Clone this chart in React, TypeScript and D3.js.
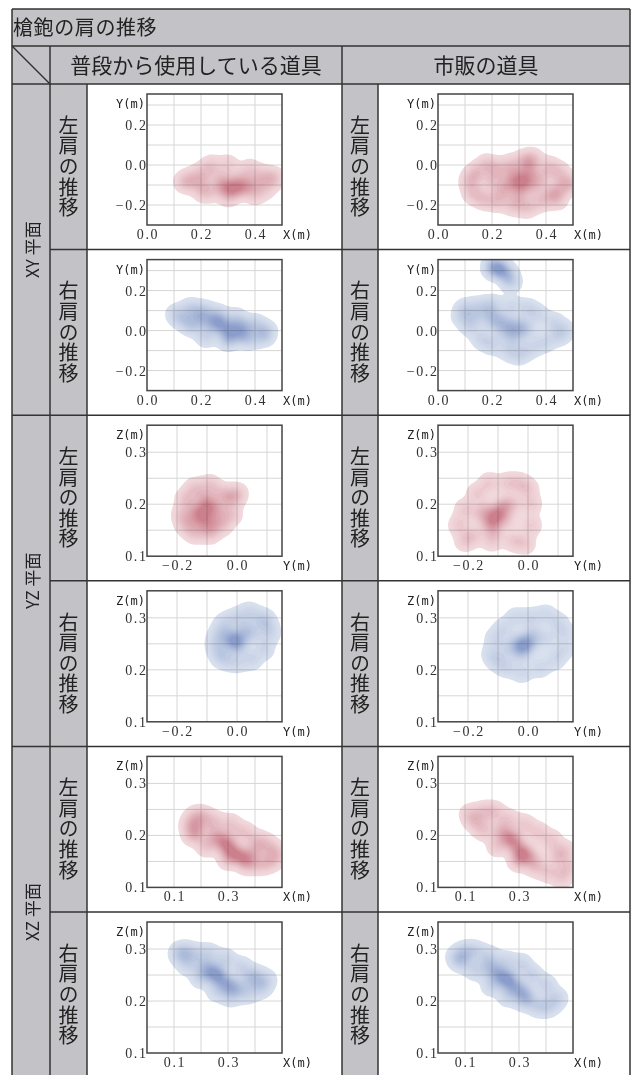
import React, { useEffect, useRef } from 'react';
import * as d3 from 'd3';

type Pt = [number, number];

const title = '槍鉋の肩の推移';
const toolHeaders = ['普段から使用している道具', '市販の道具'];
const planeLabels = ['XY 平面', 'YZ 平面', 'XZ 平面'];
const shoulderLabels = ['左肩の推移', '右肩の推移'];

// per plane: [horizontal axis name, vertical axis name]
const axisNames = [['X(m)', 'Y(m)'], ['Y(m)', 'Z(m)'], ['X(m)', 'Z(m)']];
const hDomains = [[0, 0.5], [-0.3, 0.15], [0, 0.5]];
const vDomains = [[-0.3, 0.355], [0.1, 0.352], [0.1, 0.352]];
const hGrid = [[0.1, 0.2, 0.3, 0.4], [-0.2, -0.1, 0, 0.1], [0.1, 0.2, 0.3, 0.4]];
const vGrid = [[-0.2, -0.1, 0, 0.1, 0.2, 0.3], [0.15, 0.2, 0.25, 0.3], [0.15, 0.2, 0.25, 0.3]];
const hTicks = [[0, 0.2, 0.4], [-0.2, 0], [0.1, 0.3]];
const vTicks = [[-0.2, 0, 0.2], [0.1, 0.2, 0.3], [0.1, 0.2, 0.3]];

// shoulder positions (metres)
const xyLeftUsual: Pt[] = [
  [0.30, -0.12], [0.33, -0.11], [0.35, -0.12], [0.28, -0.10], [0.32, -0.13], [0.36, -0.10], [0.31, -0.09],
  [0.26, -0.12], [0.38, -0.11], [0.20, -0.08], [0.22, -0.03], [0.18, -0.05], [0.15, -0.09], [0.14, -0.08],
  [0.24, 0.0], [0.30, 0.0], [0.38, -0.02], [0.42, -0.05], [0.46, -0.06], [0.47, -0.07], [0.44, -0.12],
  [0.40, -0.15], [0.30, -0.16], [0.22, -0.14], [0.35, -0.06], [0.27, -0.06], [0.20, -0.12], [0.41, -0.09],
];
const xyLeftMarket: Pt[] = [
  [0.31, -0.08], [0.33, -0.06], [0.30, -0.10], [0.34, -0.02], [0.32, 0.02], [0.35, 0.03], [0.28, -0.05],
  [0.26, -0.09], [0.35, -0.11], [0.38, -0.07], [0.22, -0.02], [0.18, 0.0], [0.14, -0.04], [0.12, -0.08],
  [0.13, -0.14], [0.17, -0.17], [0.22, -0.18], [0.28, -0.20], [0.33, -0.21], [0.38, -0.18], [0.42, -0.14],
  [0.46, -0.11], [0.49, -0.09], [0.45, -0.04], [0.41, -0.01], [0.44, -0.17], [0.24, -0.13], [0.20, -0.08],
  [0.30, -0.15], [0.27, 0.0],
];
const xyRightUsual: Pt[] = [
  [0.28, 0.02], [0.31, 0.01], [0.25, 0.03], [0.34, 0.0], [0.22, 0.05], [0.30, -0.02], [0.27, 0.05],
  [0.36, 0.02], [0.11, 0.08], [0.16, 0.11], [0.21, 0.10], [0.26, 0.08], [0.33, 0.06],
  [0.40, 0.03], [0.44, 0.0], [0.43, -0.03], [0.38, -0.04], [0.30, -0.05], [0.22, -0.03], [0.17, 0.02],
  [0.14, 0.05], [0.19, 0.07], [0.35, -0.03],
];
const xyRightMarket: Pt[] = [
  [0.27, 0.02], [0.25, 0.04], [0.29, 0.0], [0.22, 0.06], [0.19, 0.09], [0.31, 0.03], [0.24, -0.01],
  [0.28, -0.04], [0.33, 0.0], [0.20, 0.04], [0.10, 0.11], [0.09, 0.07], [0.12, 0.02], [0.16, -0.04],
  [0.20, -0.07], [0.26, -0.10], [0.30, -0.12], [0.34, -0.09], [0.39, -0.06], [0.44, -0.03], [0.47, 0.0],
  [0.43, 0.04], [0.37, 0.08], [0.33, 0.11], [0.27, 0.12], [0.20, 0.13], [0.15, 0.12], [0.14, 0.07],
  [0.21, 0.31], [0.23, 0.30], [0.25, 0.30], [0.20, 0.32], [0.26, 0.27], [0.27, 0.24], [0.22, 0.32],
];
const yzLeftUsual: Pt[] = [
  [-0.12, 0.18], [-0.10, 0.19], [-0.09, 0.20], [-0.13, 0.17], [-0.11, 0.21], [-0.14, 0.19], [-0.08, 0.17],
  [-0.10, 0.16], [-0.18, 0.18], [-0.17, 0.21], [-0.14, 0.23], [-0.09, 0.235], [-0.05, 0.22], [-0.02, 0.21],
  [0.0, 0.22], [-0.02, 0.18], [-0.05, 0.16], [-0.09, 0.145], [-0.14, 0.145], [-0.17, 0.16], [-0.06, 0.19],
];
const yzLeftMarket: Pt[] = [
  [-0.11, 0.175], [-0.10, 0.18], [-0.12, 0.17], [-0.09, 0.19], [-0.08, 0.20], [-0.13, 0.16], [-0.07, 0.17],
  [-0.11, 0.15], [-0.14, 0.19], [-0.13, 0.24], [-0.17, 0.22], [-0.21, 0.19], [-0.23, 0.16], [-0.21, 0.13],
  [-0.18, 0.14], [-0.12, 0.13], [-0.05, 0.13], [-0.01, 0.125], [0.01, 0.16], [0.01, 0.20], [0.0, 0.23],
  [-0.03, 0.24], [-0.07, 0.24], [-0.05, 0.20], [-0.16, 0.18],
];
const yzRightUsual: Pt[] = [
  [-0.01, 0.26], [0.0, 0.255], [-0.02, 0.25], [0.02, 0.265], [0.01, 0.245], [-0.03, 0.265], [0.03, 0.28],
  [-0.07, 0.25], [-0.06, 0.27], [-0.04, 0.29], [0.0, 0.30], [0.04, 0.31], [0.08, 0.30], [0.10, 0.29],
  [0.11, 0.27], [0.09, 0.24], [0.05, 0.22], [0.0, 0.215], [-0.04, 0.22], [-0.06, 0.23], [0.06, 0.27],
];
const yzRightMarket: Pt[] = [
  [-0.02, 0.25], [-0.01, 0.245], [-0.03, 0.24], [0.0, 0.26], [0.01, 0.25], [-0.04, 0.255], [0.02, 0.27],
  [-0.02, 0.23], [-0.12, 0.23], [-0.11, 0.26], [-0.08, 0.28], [-0.04, 0.30], [0.01, 0.30], [0.06, 0.305],
  [0.10, 0.29], [0.12, 0.27], [0.12, 0.24], [0.09, 0.22], [0.04, 0.205], [-0.02, 0.195], [-0.07, 0.205],
  [-0.10, 0.215], [0.06, 0.26], [-0.07, 0.24],
];
const xzLeftUsual: Pt[] = [
  [0.31, 0.17], [0.29, 0.18], [0.33, 0.165], [0.27, 0.19], [0.35, 0.16], [0.30, 0.19], [0.25, 0.20],
  [0.37, 0.155], [0.18, 0.235], [0.16, 0.22], [0.17, 0.20], [0.21, 0.235], [0.25, 0.225], [0.31, 0.22],
  [0.36, 0.205], [0.41, 0.19], [0.45, 0.18], [0.48, 0.165], [0.46, 0.15], [0.42, 0.145], [0.37, 0.145],
  [0.30, 0.155], [0.22, 0.18], [0.19, 0.21], [0.40, 0.17],
];
const xzLeftMarket: Pt[] = [
  [0.29, 0.18], [0.27, 0.19], [0.31, 0.17], [0.25, 0.20], [0.33, 0.165], [0.23, 0.21], [0.35, 0.155],
  [0.28, 0.195], [0.30, 0.16], [0.12, 0.24], [0.14, 0.225], [0.17, 0.245], [0.21, 0.245], [0.26, 0.23],
  [0.32, 0.22], [0.37, 0.205], [0.42, 0.19], [0.47, 0.17], [0.48, 0.14], [0.46, 0.12], [0.41, 0.13],
  [0.36, 0.14], [0.30, 0.15], [0.22, 0.18], [0.17, 0.21], [0.44, 0.16],
];
const xzRightUsual: Pt[] = [
  [0.25, 0.25], [0.27, 0.245], [0.23, 0.26], [0.29, 0.235], [0.31, 0.23], [0.21, 0.265], [0.26, 0.255],
  [0.33, 0.225], [0.12, 0.29], [0.14, 0.295], [0.18, 0.29], [0.23, 0.29], [0.29, 0.28], [0.35, 0.265],
  [0.40, 0.25], [0.44, 0.24], [0.42, 0.225], [0.37, 0.215], [0.31, 0.21], [0.26, 0.22], [0.20, 0.245],
  [0.15, 0.27], [0.38, 0.24],
];
const xzRightMarket: Pt[] = [
  [0.25, 0.24], [0.27, 0.235], [0.23, 0.25], [0.29, 0.225], [0.21, 0.255], [0.31, 0.22], [0.26, 0.245],
  [0.33, 0.21], [0.19, 0.265], [0.07, 0.285], [0.10, 0.295], [0.14, 0.295], [0.19, 0.285], [0.25, 0.275],
  [0.31, 0.27], [0.35, 0.25], [0.40, 0.23], [0.44, 0.205], [0.41, 0.19], [0.37, 0.19], [0.32, 0.20],
  [0.26, 0.21], [0.20, 0.23], [0.14, 0.26], [0.09, 0.275],
];

// [plane][shoulder][tool]
const panelData: Pt[][][][] = [
  [[xyLeftUsual, xyLeftMarket], [xyRightUsual, xyRightMarket]],
  [[yzLeftUsual, yzLeftMarket], [yzRightUsual, yzRightMarket]],
  [[xzLeftUsual, xzLeftMarket], [xzRightUsual, xzRightMarket]],
];

const GRAY = '#c3c3c7';
const LINE = '#333';
const JP = '"Noto Sans CJK JP", "Noto Sans", sans-serif';
const shoulderColors = [
  ['#f1d8dc', '#cc7f8c'],
  ['#d8e0ee', '#8a9dcb'],
];

function App() {
  const svgRef = useRef<SVGSVGElement>(null);

  useEffect(() => {
    const svg = d3.select(svgRef.current);
    svg.selectAll('*').remove();

    const L = 12, R = 630, T = 9, titleB = 46, headB = 84, H = 1075;
    const cols = [12, 50, 87, 342, 378, 630];
    const rowTop = (i: number) => headB + i * 165.6;

    // gray cells
    svg.append('rect').attr('x', L).attr('y', T).attr('width', R - L).attr('height', headB - T).attr('fill', GRAY);
    [[cols[0], cols[1]], [cols[1], cols[2]], [cols[3], cols[4]]].forEach(([a, b]) => {
      svg.append('rect').attr('x', a).attr('y', headB).attr('width', b - a).attr('height', H - headB).attr('fill', GRAY);
    });

    // panels
    let k = 0;
    for (let p = 0; p < 3; p++) {
      for (let s = 0; s < 2; s++) {
        for (let t = 0; t < 2; t++) {
          const bx = (t === 0 ? cols[2] : cols[4]) + 60;
          const by = rowTop(p * 2 + s) + 10;
          const bw = 135, bh = 131;
          const xs = d3.scaleLinear().domain(hDomains[p]).range([bx, bx + bw]);
          const ys = d3.scaleLinear().domain(vDomains[p]).range([by + bh, by]);
          const g = svg.append('g');

          g.selectAll('.vg').data(hGrid[p]).enter().append('line')
            .attr('x1', d => xs(d)).attr('x2', d => xs(d))
            .attr('y1', by).attr('y2', by + bh)
            .attr('stroke', '#d6d6d6');
          g.selectAll('.hg').data(vGrid[p]).enter().append('line')
            .attr('y1', d => ys(d)).attr('y2', d => ys(d))
            .attr('x1', bx).attr('x2', bx + bw)
            .attr('stroke', '#d6d6d6');

          svg.append('clipPath').attr('id', 'clip' + k)
            .append('rect').attr('width', bw).attr('height', bh);

          const density = d3.contourDensity<Pt>()
            .x(d => xs(d[0]) - bx)
            .y(d => ys(d[1]) - by)
            .size([bw, bh])
            .cellSize(2)
            .bandwidth(5.5);
          const cf = density.contours(panelData[p][s][t]);
          const n = 14;
          const levels = d3.range(n).map(i => cf.max * (0.06 + (0.88 * i) / n));
          const color = d3.interpolateRgb(shoulderColors[s][0], shoulderColors[s][1]);
          const path = d3.geoPath();

          g.append('g')
            .attr('transform', `translate(${bx},${by})`)
            .attr('clip-path', `url(#clip${k})`)
            .style('mix-blend-mode', 'multiply')
            .selectAll('path')
            .data(levels)
            .enter()
            .append('path')
            .attr('d', d => path(cf(d)))
            .attr('fill', (d, i) => color(Math.pow(i / (n - 1), 1.2)));

          g.append('rect').attr('x', bx).attr('y', by).attr('width', bw).attr('height', bh)
            .attr('fill', 'none').attr('stroke', '#444').attr('stroke-width', 1.5);

          const fmt = d3.format('.1f');
          g.selectAll('.vt').data(vTicks[p]).enter().append('text')
            .attr('x', bx + 0.5).attr('y', d => ys(d) + 5)
            .attr('text-anchor', 'end')
            .style('font', '14px "Liberation Serif", serif').style('letter-spacing', '1.6px').attr('fill', '#333')
            .text(d => fmt(d));
          g.selectAll('.ht').data(hTicks[p]).enter().append('text')
            .attr('x', d => xs(d) + 1).attr('y', by + bh + 14)
            .attr('text-anchor', 'middle')
            .style('font', '14px "Liberation Serif", serif').style('letter-spacing', '1.6px').attr('fill', '#333')
            .text(d => fmt(d));
          g.append('text').attr('x', bx - 2).attr('y', by + 14).attr('text-anchor', 'end')
            .style('font', '12px "DejaVu Sans Mono", monospace').attr('fill', '#222')
            .text(axisNames[p][1]);
          g.append('text').attr('x', bx + bw + 1).attr('y', by + bh + 14)
            .style('font', '12px "DejaVu Sans Mono", monospace').attr('fill', '#222')
            .text(axisNames[p][0]);
          k++;
        }
      }
    }

    // lines
    const line = (x1: number, y1: number, x2: number, y2: number) =>
      svg.append('line').attr('x1', x1).attr('y1', y1).attr('x2', x2).attr('y2', y2)
        .attr('stroke', LINE).attr('stroke-width', 1.5);
    line(L, T, R, T);
    line(L, T, L, H);
    line(R, T, R, H);
    line(L, titleB, R, titleB);
    line(L, headB, R, headB);
    line(cols[0], titleB, cols[1], headB);
    line(cols[1], titleB, cols[1], H);
    line(cols[3], titleB, cols[3], H);
    line(cols[2], headB, cols[2], H);
    line(cols[4], headB, cols[4], H);
    for (let i = 1; i < 6; i++) {
      line(i % 2 === 0 ? L : cols[1], rowTop(i), R, rowTop(i));
    }

    // texts
    svg.append('text').attr('x', 13).attr('y', 34.5)
      .style('font', `20px ${JP}`).style('letter-spacing', '0.6px').attr('fill', '#222')
      .text(title);
    toolHeaders.forEach((h, i) => {
      const cx = i === 0 ? (cols[1] + cols[3]) / 2 : (cols[3] + R) / 2;
      svg.append('text').attr('x', cx).attr('y', 72.5).attr('text-anchor', 'middle')
        .style('font', `21px ${JP}`).attr('fill', '#222').text(h);
    });
    planeLabels.forEach((lab, p) => {
      const cy = (rowTop(p * 2) + rowTop(p * 2 + 2)) / 2;
      const cx = (cols[0] + cols[1]) / 2;
      svg.append('text').attr('transform', `translate(${cx},${cy}) rotate(-90)`)
        .attr('text-anchor', 'middle').attr('dominant-baseline', 'central')
        .style('font', `17px ${JP}`).attr('fill', '#222').text(lab);
    });
    for (let r = 0; r < 6; r++) {
      const lab = shoulderLabels[r % 2];
      const cy = rowTop(r) + 165.6 / 2;
      [(cols[1] + cols[2]) / 2, (cols[3] + cols[4]) / 2].forEach(cx => {
        svg.append('text').attr('x', cx).attr('y', cy)
          .attr('text-anchor', 'middle')
          .style('writing-mode', 'vertical-rl')
          .style('font', `20px ${JP}`).style('letter-spacing', '0.6px')
          .attr('fill', '#222').text(lab);
      });
    }
  }, []);

  return (
    <svg
      ref={svgRef}
      width={632}
      height={1075}
      style={{ position: 'absolute', left: 0, top: 0, background: '#fff' }}
    ></svg>
  );
}

export default App;
